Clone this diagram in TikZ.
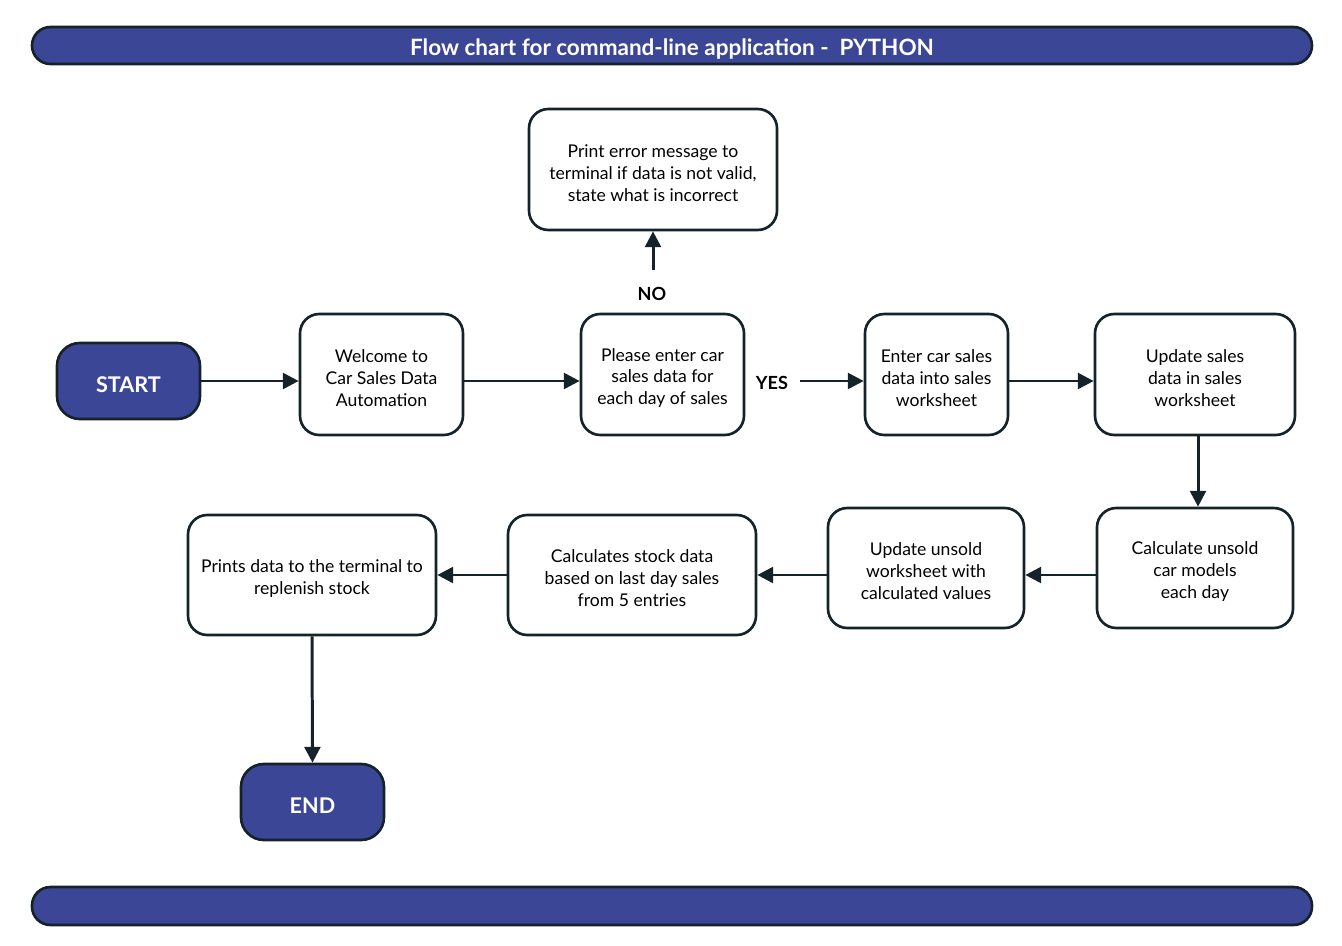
\documentclass[tikz,border=0pt]{standalone}
\usepackage{fontspec}
\setmainfont{Lato}
\usetikzlibrary{arrows.meta,positioning}
\definecolor{navy}{HTML}{3C4696}
\definecolor{ink}{HTML}{14232A}
\tikzset{
  x=0.02cm,y=-0.02cm,
  box/.style={draw=ink,line width=1.5pt,rounded corners=11pt,fill=white,inner sep=0pt},
  boxt/.style={align=center,font=\fontsize{10}{12.5}\selectfont,inner sep=0pt},
  term/.style={draw=ink,line width=1.5pt,rounded corners=13pt,fill=navy,inner sep=0pt},
  termt/.style={text=white,font=\bfseries\fontsize{12.3}{14}\selectfont,inner sep=0pt},
  banner/.style={draw=ink,line width=1.5pt,rounded corners=10.5pt,fill=navy,inner sep=0pt},
  bannert/.style={text=white,font=\bfseries\fontsize{12.8}{14}\selectfont,inner sep=0pt},
  arr/.style={draw=ink,line width=1.7pt,-{Triangle[length=9pt,width=9pt]}},
  lbl/.style={font=\bfseries\fontsize{10.3}{12}\selectfont,text=black,inner sep=0pt},
}
\newcommand{\bx}[6]{\node[#1,minimum width=#4*0.02cm,minimum height=#5*0.02cm] (#2) at (#3) {};
  \node[#1t,yshift=-3.5*0.02cm] (#2-t) at (#2.center) {#6};}
\begin{document}
\begin{tikzpicture}
\useasboundingbox (0,0) rectangle (1342,946);
\bx{banner}{top}{672,45.5}{1280}{37}{Flow chart for command-line application -\ \ PYTHON}
\node[banner,minimum width=1280*0.02cm,minimum height=38*0.02cm] (bot) at (672,906) {};
\bx{term}{start}{128.5,381}{143}{76}{START}
\bx{box}{welcome}{381.5,374.5}{163}{121}{Welcome to\\Car Sales Data\\Automation}
\bx{box}{please}{662.5,374.5}{163}{121}{Please enter car\\sales data for\\each day of sales}
\bx{box}{error}{653,169.5}{248}{121}{Print error message to\\terminal if data is not valid,\\state what is incorrect}
\bx{box}{enter}{936.5,374.5}{143}{121}{Enter car sales\\data into sales\\worksheet}
\bx{box}{upsales}{1195,374.5}{200}{121}{Update sales\\data in sales\\worksheet}
\bx{box}{calcun}{1195,568}{196}{120}{Calculate unsold\\car models\\each day}
\bx{box}{upun}{926,568}{196}{120}{Update unsold\\worksheet with\\calculated values}
\bx{box}{calcst}{632,575}{248}{120}{Calculates stock data\\based on last day sales\\from 5 entries}
\bx{box}{prints}{312,575}{248}{120}{Prints data to the terminal to\\replenish stock}
\bx{term}{end}{312.5,802}{143}{76}{END}
\node[lbl] (no) at (652,294) {NO};
\node[lbl] (yes) at (772,383) {YES};
\coordinate (nos) at (653,270);
\coordinate (yese) at (800,381);
\draw[arr] (start.east) -- (start.east -| welcome.west);
\draw[arr] (welcome.east |- start.east) -- (please.west |- start.east);
\draw[arr] (yese) -- (yese -| enter.west);
\draw[arr] (nos) -- (nos |- error.south);
\draw[arr] (enter.east |- start.east) -- (upsales.west |- start.east);
\draw[arr] ([xshift=3*0.02cm]upsales.south) -- ([xshift=3*0.02cm]upsales.south |- calcun.north);
\coordinate (r2) at (0,575);
\draw[arr] (calcun.west |- r2) -- (upun.east |- r2);
\draw[arr] (upun.west |- r2) -- (calcst.east |- r2);
\draw[arr] (calcst.west |- r2) -- (prints.east |- r2);
\draw[arr] (prints.south) -- (end.north);
\end{tikzpicture}
\end{document}
